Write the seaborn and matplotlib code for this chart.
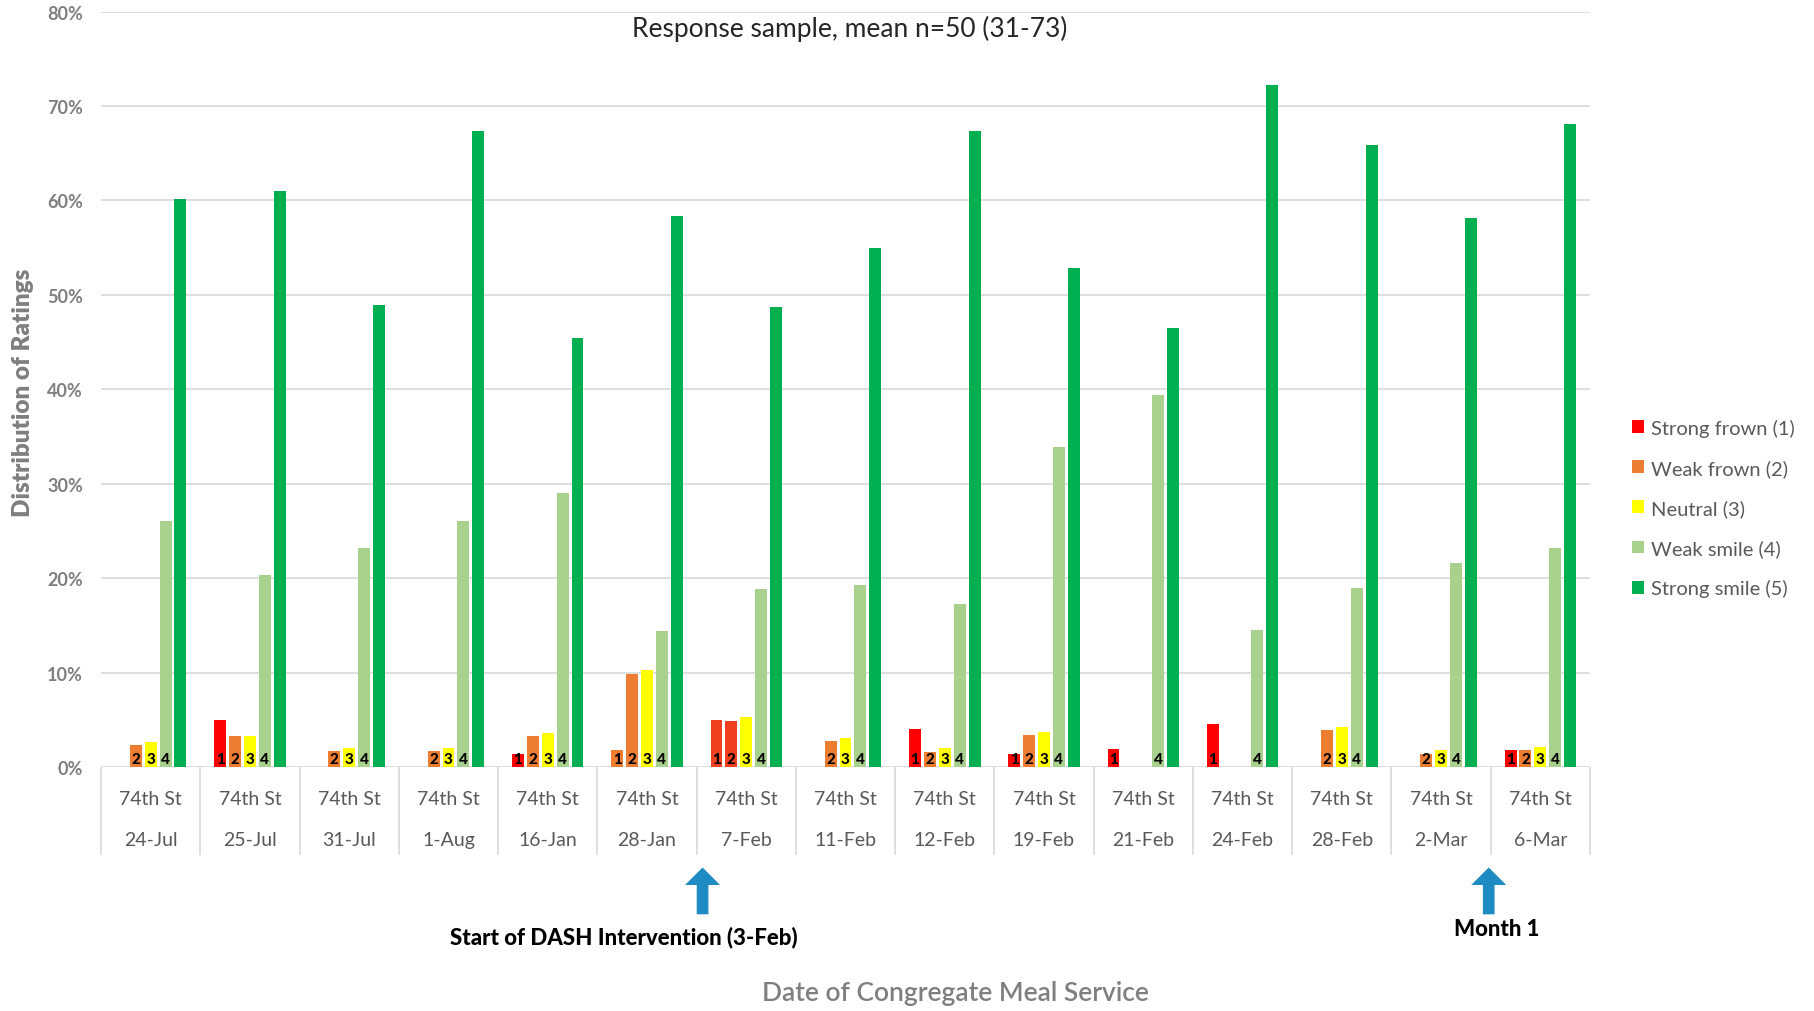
import matplotlib
matplotlib.use("Agg")
import matplotlib.pyplot as plt
import pandas as pd
import seaborn as sns

# --- data -------------------------------------------------------------
site = "74th St"
dates = ["24-Jul", "25-Jul", "31-Jul", "1-Aug", "16-Jan", "28-Jan", "7-Feb",
         "11-Feb", "12-Feb", "19-Feb", "21-Feb", "24-Feb", "28-Feb", "2-Mar", "6-Mar"]
rating_labels = ["Strong frown (1)", "Weak frown (2)", "Neutral (3)",
                 "Weak smile (4)", "Strong smile (5)"]

# share of responses (%) per rating and meal date
strong_frown = [0, 5.0, 0, 0, 1.4, 1.8, 5.0, 0, 4.0, 1.4, 1.9, 4.6, 0, 0, 1.8]
weak_frown = [2.3, 3.3, 1.7, 1.7, 3.3, 9.9, 4.9, 2.8, 1.6, 3.4, 0, 0, 3.9, 1.4, 1.8]
neutral = [2.6, 3.3, 2.0, 2.0, 3.6, 10.3, 5.3, 3.1, 2.0, 3.7, 0, 0, 4.2, 1.8, 2.1]
weak_smile = [26.0, 20.3, 23.2, 26.0, 29.0, 14.4, 18.9, 19.3, 17.3, 33.9, 39.4,
              14.5, 19.0, 21.6, 23.2]
strong_smile = [60.2, 61.0, 48.9, 67.4, 45.4, 58.3, 48.7, 55.0, 67.4, 52.8, 46.5,
                72.2, 65.9, 58.1, 68.1]

title = "Response sample, mean n=50 (31-73)"
y_title = "Distribution of Ratings"
x_title = "Date of Congregate Meal Service"
intervention_note = "Start of DASH Intervention (3-Feb)"
month_note = "Month 1"

# --- styling ----------------------------------------------------------
palette = ["#ff0000", "#ed7d31", "#ffff00", "#a9d18e", "#00b050"]
# individual bars that were coloured differently in the source workbook
bar_colour_override = {("28-Jan", 0): "#ed7d31",
                       ("7-Feb", 0): "#f0401f",
                       ("7-Feb", 1): "#f0401f"}
grid_col = "#d9d9d9"
grey_text = "#7f7f7f"
label_text = "#595959"
arrow_col = "#1f8bc3"

sns.set_style("white")
plt.rcParams["font.family"] = ["Lato", "DejaVu Sans"]

series = [strong_frown, weak_frown, neutral, weak_smile, strong_smile]
df = pd.DataFrame(
    [(d, rating_labels[k], v) for k, vals in enumerate(series)
     for d, v in zip(dates, vals)],
    columns=["date", "rating", "share"],
)

fig = plt.figure(figsize=(18.14, 10.12), dpi=100)
ax = fig.add_axes([0.0557, 0.2411, 0.8208, 0.7465])

sns.barplot(data=df, x="date", y="share", hue="rating", order=dates,
            hue_order=rating_labels, palette=palette, saturation=1,
            width=0.75, gap=0.2, linewidth=0, ax=ax)

for (d, k), col in bar_colour_override.items():
    ax.containers[k][dates.index(d)].set_facecolor(col)

# rating numbers at the foot of bars 1-4
for k, cont in enumerate(ax.containers[:4]):
    for bar in cont:
        if bar.get_height() > 0:
            ax.text(bar.get_x() + bar.get_width() / 2, 0.1, str(k + 1),
                    ha="center", va="bottom", fontsize=11, fontweight="black",
                    color="black")

# axes, grid
ax.set_ylim(0, 80)
ax.set_xlim(-0.5, len(dates) - 0.5)
ax.set_yticks(range(0, 81, 10))
ax.set_yticklabels([f"{v}%" for v in range(0, 81, 10)])
ax.tick_params(axis="y", length=0, pad=13, labelsize=13, labelcolor=grey_text)
for t in ax.get_yticklabels():
    t.set_fontweight("bold")
ax.set_xticks(range(len(dates)))
ax.set_xticklabels([])
ax.tick_params(axis="x", length=0)
ax.yaxis.grid(True, color=grid_col, lw=1.2)
ax.set_axisbelow(True)
sns.despine(ax=ax, left=True, bottom=True)

# two-row category table under the axis
xt = ax.get_xaxis_transform()
ax.vlines([i - 0.5 for i in range(len(dates) + 1)], -0.1165, 0, transform=xt,
          colors=grid_col, lw=1.2, clip_on=False)
for i, d in enumerate(dates):
    ax.text(i, -0.0417, site, transform=xt, ha="center", va="center",
            fontsize=14, color=label_text)
    ax.text(i, -0.0966, d, transform=xt, ha="center", va="center",
            fontsize=14, color=label_text)

# titles
ax.set_title(title, x=0.503, y=0.978, va="center", pad=0, fontsize=19,
             color="#262626")
ax.set_ylabel(y_title, fontsize=17.5, fontweight="heavy", color=grey_text,
              va="center")
ax.yaxis.set_label_coords(-0.0524, 0.496)
ax.set_xlabel(x_title, fontsize=19, fontweight="semibold", color=grey_text,
              va="center")
ax.xaxis.set_label_coords(0.5735, -0.298)

# legend
handles, labels = ax.get_legend_handles_labels()
ax.legend(handles, labels, loc="center left", bbox_to_anchor=(1632 / 1814, 0.497),
          bbox_transform=fig.transFigure, frameon=False, fontsize=14.5,
          labelcolor=label_text, handlelength=0.6, handleheight=0.6,
          handletextpad=0.35, labelspacing=1.1, borderpad=0, borderaxespad=0)

# intervention markers
arrow_style = "simple,head_length=0.9,head_width=1.8,tail_width=0.6"
for xpos in (5.56, 13.48):
    ax.annotate("", xy=(xpos, -0.133), xycoords=xt, xytext=(xpos, -0.195),
                textcoords=xt, annotation_clip=False,
                arrowprops=dict(arrowstyle=arrow_style, color=arrow_col,
                                mutation_scale=14, shrinkA=0, shrinkB=0, lw=0))
ax.text(4.77, -0.2237, intervention_note, transform=xt, ha="center",
        va="center", fontsize=16, fontweight="black", color="black")
ax.text(13.56, -0.2144, month_note, transform=xt, ha="center", va="center",
        fontsize=16, fontweight="black", color="black")

fig.savefig("out.png", dpi=100)
